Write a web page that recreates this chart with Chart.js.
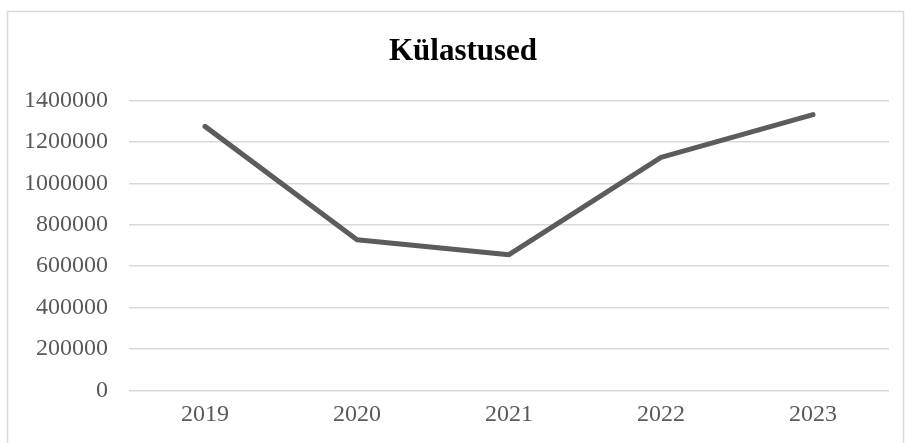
<!DOCTYPE html>
<html>
<head>
<meta charset="utf-8">
<script src="https://cdn.jsdelivr.net/npm/chart.js@4"></script>
<style>
  html, body { margin: 0; padding: 0; background: #fff; }
  #wrap { width: 905px; height: 443px; position: relative; }
</style>
</head>
<body>
<div id="wrap"><canvas id="lineChart"></canvas></div>
<script>
const years = ["2019", "2020", "2021", "2022", "2023"];
const visits = [1275000, 727000, 655000, 1125000, 1332000];
const yTicks = [0, 200000, 400000, 600000, 800000, 1000000, 1200000, 1400000];
const chartTitle = "Külastused";

// light frame around the whole chart box; the box runs past the right edge,
// so the title sits centred on the full box, not on the canvas
const frame = {
  id: "frame",
  beforeDraw(chart) {
    const ctx = chart.ctx;
    ctx.save();
    ctx.strokeStyle = "#d9d9d9";
    ctx.lineWidth = 1.5;
    ctx.strokeRect(7.5, 11.5, 896, 440);
    ctx.restore();
  },
  afterDraw(chart) {
    const ctx = chart.ctx;
    ctx.save();
    ctx.fillStyle = "#000";
    ctx.font = "bold 31px 'Liberation Serif'";
    ctx.textAlign = "center";
    ctx.textBaseline = "middle";
    ctx.fillText(chartTitle, 463, 52);
    ctx.restore();
  },
};

document.addEventListener("DOMContentLoaded", function () {
  const ctx = document.getElementById("lineChart").getContext("2d");
  new Chart(ctx, {
    type: "line",
    data: {
      labels: years,
      datasets: [
        {
          label: chartTitle,
          data: visits,
          borderColor: "#5c5c5c",
          borderWidth: 5,
          borderCapStyle: "round",
          borderJoinStyle: "round",
          pointRadius: 0,
          tension: 0,
        },
      ],
    },
    options: {
      responsive: true,
      maintainAspectRatio: false,
      animation: false,
      layout: { padding: { top: 100.5, right: 16, bottom: 15, left: 0 } },
      plugins: {
        legend: { display: false },
        tooltip: { enabled: false },
        title: { display: false },
      },
      scales: {
        x: {
          offset: true,
          afterFit: function (scale) {
            scale.height = 37.7;
          },
          grid: { display: false, drawTicks: false },
          border: { display: false },
          ticks: {
            color: "#595959",
            padding: 10,
            maxRotation: 0,
            font: { family: "Liberation Serif", size: 24 },
          },
        },
        y: {
          min: 0,
          max: 1400000,
          afterFit: function (scale) {
            scale.width = 129;
          },
          afterBuildTicks: function (scale) {
            scale.ticks = yTicks.map((v) => ({ value: v }));
          },
          grid: { color: "#d9d9d9", lineWidth: 1.5, drawTicks: false },
          border: { display: false },
          ticks: {
            color: "#595959",
            padding: 21,
            font: { family: "Liberation Serif", size: 24 },
            callback: (v) => String(v),
          },
        },
      },
    },
    plugins: [frame],
  });
});
</script>
</body>
</html>
